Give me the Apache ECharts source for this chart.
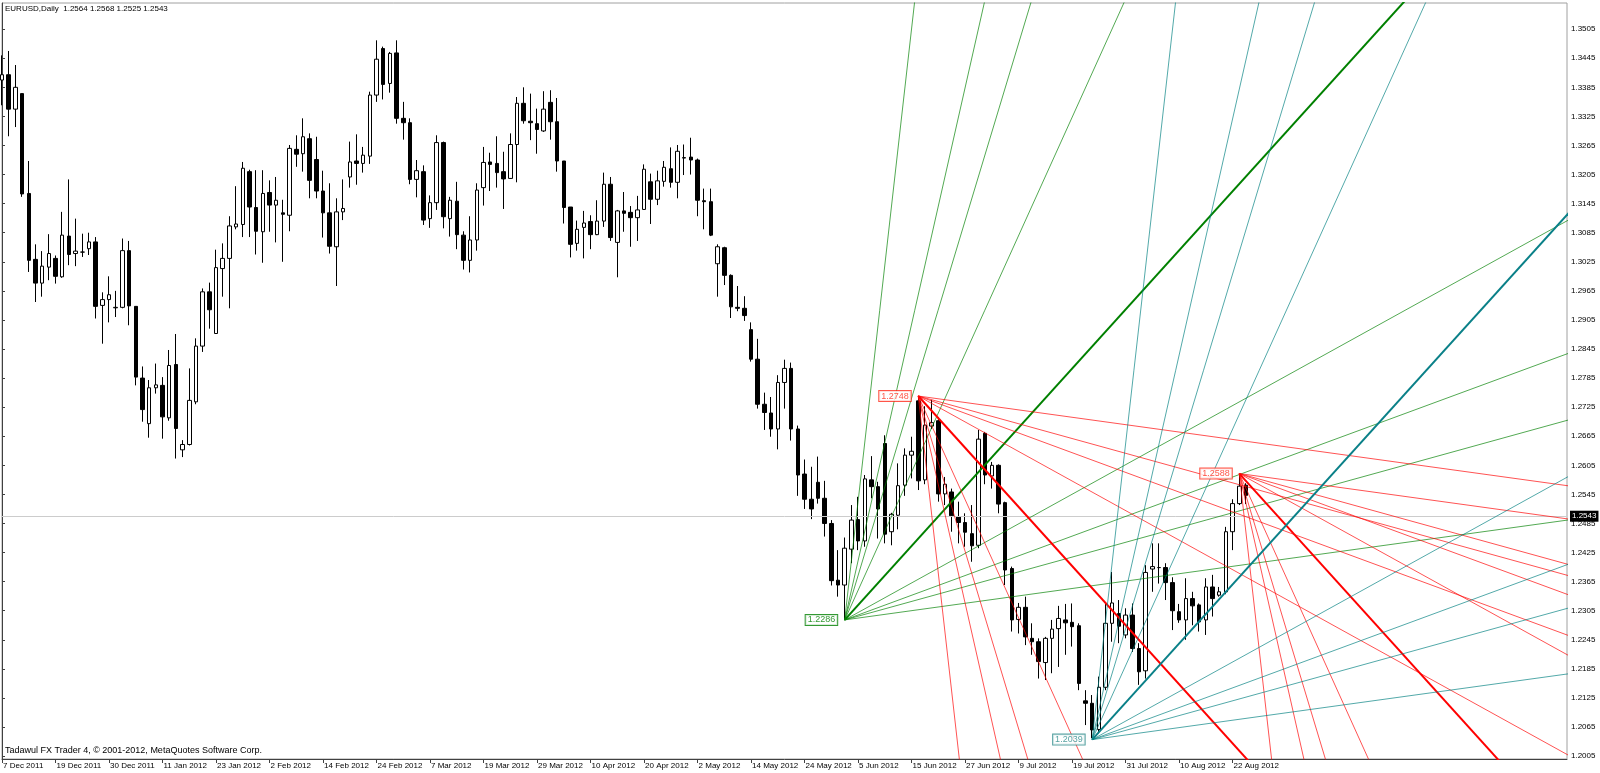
<!DOCTYPE html>
<html><head><meta charset="utf-8">
<script src="https://cdn.jsdelivr.net/npm/echarts@6/dist/echarts.min.js"></script>
<style>html,body{margin:0;padding:0;background:#fff}#c{width:1600px;height:773px}</style>
</head><body><div id="c"></div>
<script>
// ---- data ----
const symbolTitle = 'EURUSD,Daily';
const footerText = 'Tadawul FX Trader 4, \u00a9 2001-2012, MetaQuotes Software Corp.';
const dateLabels = ['7 Dec 2011','19 Dec 2011','30 Dec 2011','11 Jan 2012','23 Jan 2012','2 Feb 2012','14 Feb 2012','24 Feb 2012','7 Mar 2012','19 Mar 2012','29 Mar 2012','10 Apr 2012','20 Apr 2012','2 May 2012','14 May 2012','24 May 2012','5 Jun 2012','15 Jun 2012','27 Jun 2012','9 Jul 2012','19 Jul 2012','31 Jul 2012','10 Aug 2012','22 Aug 2012'];
const barsPerLabel = 8;
const totalSlots = 235;
const yTicks = [1.2005,1.2065,1.2125,1.2185,1.2245,1.2305,1.2365,1.2425,1.2485,1.2545,1.2605,1.2665,1.2725,1.2785,1.2845,1.2905,1.2965,1.3025,1.3085,1.3145,1.3205,1.3265,1.3325,1.3385,1.3445,1.3505];
const yMin = 1.1999, yMax = 1.3559;

const opens = [1.3400,1.3411,1.3340,1.3372,1.3166,1.3030,1.2981,1.3014,1.3032,1.2994,
1.3078,1.3042,1.3045,1.3052,1.3066,1.2935,1.2947,1.2930,1.2931,1.3048,
1.2933,1.2785,1.2691,1.2765,1.2770,1.2703,1.2813,1.2637,1.2648,1.2736,
1.2851,1.2963,1.2877,1.3011,1.3032,1.3097,1.3102,1.3211,1.3137,1.3087,
1.3168,1.3142,1.3126,1.3121,1.3257,1.3248,1.3279,1.3236,1.3171,1.3126,
1.3056,1.3128,1.3200,1.3233,1.3228,1.3243,1.3369,1.3465,1.3393,1.3456,
1.3321,1.3312,1.3195,1.3211,1.3114,1.3147,1.3271,1.3114,1.3150,1.3080,
1.3028,1.3070,1.3178,1.3231,1.3228,1.3211,1.3197,1.3267,1.3352,1.3315,
1.3310,1.3295,1.3354,1.3314,1.3233,1.3138,1.3063,1.3096,1.3108,1.3081,
1.3109,1.3185,1.3065,1.3130,1.3127,1.3116,1.3133,1.3190,1.3154,1.3191,
1.3217,1.3189,1.3239,1.3241,1.3235,1.3151,1.3149,1.3021,1.3054,1.2997,
1.2931,1.2929,1.2885,1.2824,1.2731,1.2713,1.2680,1.2776,1.2805,1.2680,
1.2587,1.2535,1.2570,1.2537,1.2485,1.2368,1.2358,1.2432,1.2493,1.2449,
1.2575,1.2561,1.2650,1.2468,1.2502,1.2564,1.2626,1.2738,1.2575,1.2686,
1.2697,1.2546,1.2550,1.2499,1.2487,1.2464,1.2440,1.2671,1.2583,1.2605,
1.2528,1.2392,1.2287,1.2312,1.2248,1.2241,1.2198,1.2248,1.2268,1.2286,
1.2281,1.2274,1.2119,1.2114,1.2060,1.2147,1.2279,1.2299,1.2255,1.2296,
1.2227,1.2181,1.2391,1.2394,1.2394,1.2363,1.2303,1.2286,1.2330,1.2317,
1.2286,1.2354,1.2337,1.2344,1.2468,1.2526,1.2564];
const highs = [1.3451,1.3460,1.3431,1.3372,1.3233,1.3061,1.3047,1.3082,1.3038,1.3128,
1.3195,1.3114,1.3083,1.3085,1.3076,1.2962,1.2995,1.2965,1.3073,1.3068,
1.2933,1.2809,1.2781,1.2815,1.2787,1.2843,1.2876,1.2657,1.2805,1.2867,
1.2970,1.2982,1.3050,1.3063,1.3119,1.3181,1.3231,1.3215,1.3214,1.3214,
1.3193,1.3200,1.3153,1.3266,1.3286,1.3321,1.3290,1.3283,1.3213,1.3187,
1.3156,1.3195,1.3273,1.3288,1.3262,1.3376,1.3482,1.3469,1.3458,1.3482,
1.3355,1.3321,1.3235,1.3224,1.3162,1.3286,1.3273,1.3159,1.3190,1.3088,
1.3119,1.3187,1.3262,1.3250,1.3284,1.3252,1.3290,1.3365,1.3385,1.3372,
1.3341,1.3377,1.3379,1.3363,1.3233,1.3138,1.3110,1.3130,1.3121,1.3152,
1.3209,1.3200,1.3132,1.3169,1.3140,1.3161,1.3226,1.3207,1.3213,1.3233,
1.3261,1.3266,1.3267,1.3281,1.3238,1.3176,1.3176,1.3061,1.3056,1.2999,
1.2975,1.2954,1.2900,1.2866,1.2755,1.2746,1.2791,1.2823,1.2817,1.2687,
1.2617,1.2602,1.2623,1.2573,1.2492,1.2430,1.2456,1.2523,1.2540,1.2585,
1.2624,1.2571,1.2667,1.2507,1.2609,1.2640,1.2664,1.2748,1.2727,1.2740,
1.2704,1.2581,1.2557,1.2530,1.2506,1.2523,1.2678,1.2674,1.2612,1.2607,
1.2530,1.2396,1.2321,1.2334,1.2279,1.2248,1.2251,1.2286,1.2315,1.2319,
1.2320,1.2279,1.2141,1.2131,1.2169,1.2320,1.2385,1.2327,1.2310,1.2320,
1.2238,1.2399,1.2444,1.2444,1.2403,1.2374,1.2319,1.2372,1.2344,1.2320,
1.2372,1.2379,1.2354,1.2478,1.2535,1.2588,1.2568];
const lows = [1.3348,1.3284,1.3303,1.3159,1.3004,1.2942,1.2953,1.2987,1.2980,1.2992,
1.3018,1.3016,1.3035,1.3039,1.2908,1.2856,1.2900,1.2911,1.2929,1.2894,
1.2770,1.2695,1.2662,1.2753,1.2660,1.2697,1.2619,1.2622,1.2646,1.2731,
1.2839,1.2887,1.2877,1.2953,1.2929,1.3092,1.3076,1.3076,1.3040,1.3023,
1.3087,1.3065,1.3025,1.3088,1.3221,1.3211,1.3156,1.3156,1.3075,1.3042,
1.2975,1.3111,1.3178,1.3184,1.3209,1.3227,1.3355,1.3360,1.3374,1.3310,
1.3277,1.3185,1.3158,1.3101,1.3095,1.3132,1.3094,1.3077,1.3051,1.3009,
1.3003,1.3048,1.3141,1.3171,1.3178,1.3134,1.3196,1.3189,1.3310,1.3276,
1.3248,1.3293,1.3277,1.3211,1.3104,1.3034,1.3048,1.3032,1.3051,1.3080,
1.3097,1.3068,1.2993,1.3087,1.3056,1.3068,1.3132,1.3103,1.3142,1.3180,
1.3178,1.3156,1.3204,1.3205,1.3119,1.3092,1.3078,1.2953,1.2977,1.2909,
1.2923,1.2903,1.2819,1.2722,1.2678,1.2664,1.2638,1.2722,1.2656,1.2542,
1.2515,1.2494,1.2526,1.2458,1.2357,1.2334,1.2287,1.2403,1.2430,1.2437,
1.2537,1.2454,1.2444,1.2440,1.2473,1.2542,1.2578,1.2554,1.2566,1.2680,
1.2530,1.2523,1.2468,1.2444,1.2437,1.2406,1.2434,1.2566,1.2557,1.2506,
1.2358,1.2262,1.2258,1.2234,1.2214,1.2165,1.2162,1.2176,1.2189,1.2214,
1.2231,1.2141,1.2069,1.2042,1.2052,1.2141,1.2241,1.2238,1.2248,1.2220,
1.2152,1.2165,1.2344,1.2361,1.2327,1.2265,1.2280,1.2245,1.2275,1.2262,
1.2255,1.2293,1.2334,1.2339,1.2430,1.2523,1.2525];
const closes = [1.3411,1.3340,1.3385,1.3165,1.3028,1.2981,1.3016,1.3042,1.2995,1.3080,
1.3040,1.3047,1.3045,1.3066,1.2933,1.2947,1.2957,1.2931,1.3048,1.2934,
1.2787,1.2720,1.2765,1.2771,1.2705,1.2811,1.2681,1.2648,1.2739,1.2851,
1.2963,1.2926,1.3013,1.3032,1.3099,1.3103,1.3218,1.3138,1.3088,1.3166,
1.3142,1.3152,1.3123,1.3259,1.3247,1.3283,1.3193,1.3171,1.3126,1.3057,
1.3128,1.3135,1.3231,1.3228,1.3245,1.3369,1.3443,1.3391,1.3455,1.3321,
1.3312,1.3195,1.3213,1.3111,1.3147,1.3271,1.3118,1.3152,1.3081,1.3028,
1.3070,1.3173,1.3230,1.3226,1.3209,1.3196,1.3267,1.3352,1.3316,1.3312,
1.3298,1.3340,1.3314,1.3233,1.3137,1.3061,1.3092,1.3105,1.3081,1.3109,
1.3185,1.3075,1.3130,1.3125,1.3116,1.3132,1.3216,1.3154,1.3192,1.3220,
1.3189,1.3253,1.3240,1.3235,1.3152,1.3149,1.3080,1.3056,1.2997,1.2932,
1.2929,1.2914,1.2824,1.2731,1.2714,1.2680,1.2776,1.2805,1.2680,1.2585,
1.2535,1.2515,1.2537,1.2485,1.2367,1.2358,1.2434,1.2492,1.2449,1.2577,
1.2561,1.2515,1.2463,1.2504,1.2563,1.2626,1.2634,1.2573,1.2688,1.2693,
1.2546,1.2566,1.2501,1.2487,1.2467,1.2439,1.2659,1.2585,1.2605,1.2525,
1.2389,1.2286,1.2312,1.2251,1.2241,1.2200,1.2248,1.2267,1.2289,1.2280,
1.2272,1.2155,1.2114,1.2059,1.2147,1.2279,1.2321,1.2273,1.2296,1.2227,
1.2179,1.2384,1.2396,1.2394,1.2363,1.2305,1.2286,1.2330,1.2315,1.2282,
1.2354,1.2330,1.2344,1.2468,1.2526,1.2562,1.2543];

// Gann fans: anchor bar index, anchor price, direction
const anchorBars = [126, 137, 185, 163];
const anchorPrices = [1.2286, 1.2748, 1.2588, 1.2039];
const anchorDirs = [1, -1, -1, 1];
const gannRatios = [8, 4, 3, 2, 1, 1/2, 1/3, 1/4, 1/8];
const gannScale = 0.001525; // price per bar of the 1x1 line

// ---- styles ----
const thinColors = ['rgba(0,128,0,0.68)', 'rgba(255,0,0,0.68)', 'rgba(255,0,0,0.68)', 'rgba(0,128,128,0.68)'];
const thickColors = ['#008000', '#ff0000', '#ff0000', '#0a8088'];
const labelColors = ['#008000', '#ff2a1a', '#ff2a1a', '#2a8a8a'];
const FONT = '"Liberation Sans", Arial, sans-serif';

const categories = Array.from({length: totalSlots}, (_, i) =>
  (i % barsPerLabel === 0 && i / barsPerLabel < dateLabels.length) ? dateLabels[i / barsPerLabel] : '');
const candleData = opens.map((o, i) => [o, closes[i], lows[i], highs[i]]);
const last = opens.length - 1;

const series = [{
  type: 'candlestick',
  data: candleData,
  barWidth: 4,
  z: 2,
  silent: true,
  itemStyle: { color: '#ffffff', color0: '#000000', borderColor: '#000000', borderColor0: '#000000', borderWidth: 1 },
  markLine: {
    silent: true, symbol: ['none', 'none'], animation: false,
    lineStyle: { color: '#cccccc', type: 'solid', width: 1 },
    data: [{ yAxis: closes[last] }],
    label: { show: true, position: 'end', distance: 3, formatter: closes[last].toFixed(4),
      backgroundColor: '#000', color: '#fff', fontSize: 8, fontFamily: FONT, padding: [2, 2, 1, 2] }
  }
}];

const FAN_LEN = 400;
anchorBars.forEach((a, f) => {
  gannRatios.forEach(r => {
    const p0 = anchorPrices[f];
    series.push({
      type: 'line', xAxisIndex: 1, yAxisIndex: 0, silent: true, clip: true, z: 5,
      symbol: 'none', animation: false,
      data: [[a, p0], [a + FAN_LEN, p0 + anchorDirs[f] * r * gannScale * FAN_LEN]],
      lineStyle: { color: r === 1 ? thickColors[f] : thinColors[f], width: r === 1 ? 2 : 1 }
    });
  });
  series.push({
    type: 'scatter', xAxisIndex: 1, yAxisIndex: 0, silent: true, z: 6,
    symbolSize: 1, itemStyle: { color: labelColors[f] },
    data: [[a, anchorPrices[f]]],
    label: { show: true, position: 'left', distance: 7, formatter: anchorPrices[f].toFixed(4),
      color: labelColors[f], fontSize: 9, fontFamily: FONT, backgroundColor: '#ffffff',
      borderColor: labelColors[f], borderWidth: 1, padding: [1, 2, 0, 2] }
  });
});

const chart = echarts.init(document.getElementById('c'), null, { renderer: 'canvas' });
chart.setOption({
  animation: false,
  backgroundColor: '#ffffff',
  grid: { left: 2, right: 33, top: 3, bottom: 14, show: true, borderColor: '#a0a0a0', borderWidth: 1, backgroundColor: '#ffffff' },
  xAxis: [{
    type: 'category', data: categories, boundaryGap: false,
    axisLine: { show: true, lineStyle: { color: '#404040' } },
    axisTick: { show: true, length: 4, interval: (i, v) => v !== '', lineStyle: { color: '#404040' } },
    axisLabel: { show: true, interval: (i, v) => v !== '', align: 'left', margin: 3, padding: [0, 0, 0, 1],
      fontSize: 8, fontFamily: FONT, color: '#000' },
    splitLine: { show: false }
  }, {
    type: 'value', min: 0, max: totalSlots - 1, show: false
  }],
  yAxis: [{
    type: 'value', position: 'right', min: yMin, max: yMax, scale: true,
    axisLine: { show: true, lineStyle: { color: '#404040' } },
    axisTick: { show: true, length: 3, customValues: yTicks, lineStyle: { color: '#404040' } },
    axisLabel: { show: true, customValues: yTicks, margin: 4, formatter: v => v.toFixed(4),
      fontSize: 8, fontFamily: FONT, color: '#000' },
    splitLine: { show: false }
  }],
  graphic: [
    { type: 'text', left: 5, top: 5, z: 10, style: { text: symbolTitle + '  ' + [opens[last], highs[last], lows[last], closes[last]].map(v => v.toFixed(4)).join(' '), fontSize: 8, fontFamily: FONT, fill: '#000' } },
    { type: 'text', left: 5, top: 746, z: 10, style: { text: footerText, fontSize: 9, fontFamily: FONT, fill: '#000' } }
  ],
  series: series
});
</script></body></html>
